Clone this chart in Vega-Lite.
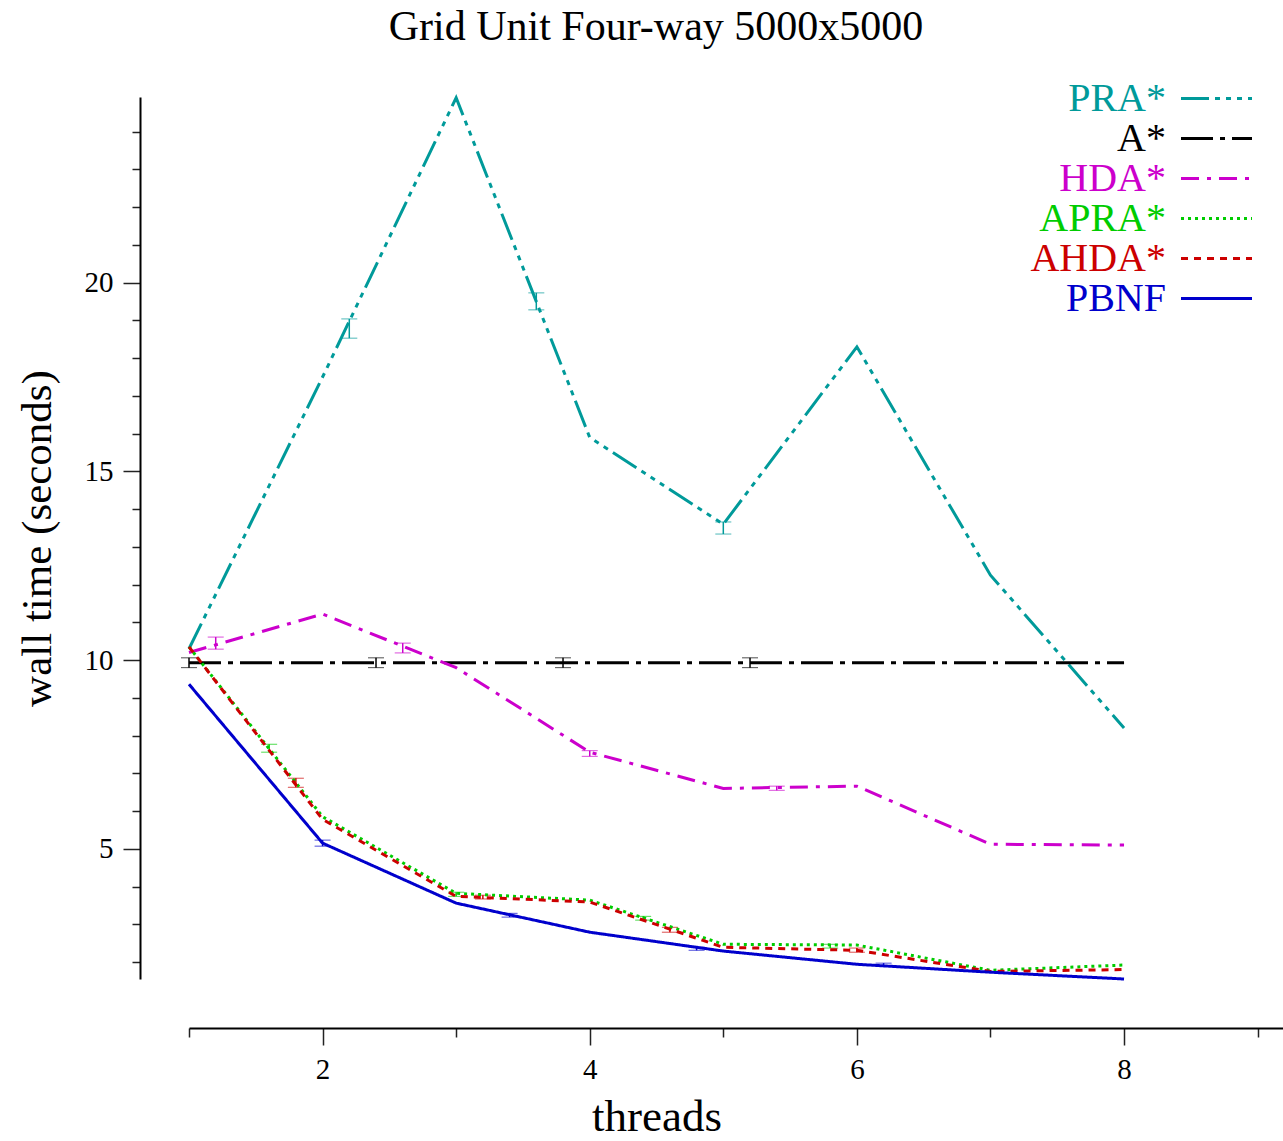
{
  "$schema": "https://vega.github.io/schema/vega-lite/v6.json",
  "autosize": {"type": "none"},
  "padding": {"left": 189, "top": 97, "right": 0, "bottom": 162},
  "width": 1094,
  "height": 882,
  "background": "white",
  "config": {
    "view": {"stroke": null},
    "font": "Liberation Serif",
    "axis": {"domainColor": "black", "domainWidth": 2, "tickColor": "#222", "tickWidth": 1.5, "labelColor": "black", "titleColor": "black", "labelFont": "Liberation Serif", "titleFont": "Liberation Serif", "titleFontWeight": "normal", "grid": false}
  },
  "title": {"text": "Grid Unit Four-way 5000x5000", "fontSize": 42, "font": "Liberation Serif", "fontWeight": "normal", "color": "black", "anchor": "middle", "dx": -80, "offset": 30},
  "datasets": {
    "lines": [
      {"series": "PRA*", "threads": 1, "time": 10.3},
      {"series": "PRA*", "threads": 2, "time": 17.5},
      {"series": "PRA*", "threads": 3, "time": 24.9},
      {"series": "PRA*", "threads": 4, "time": 15.9},
      {"series": "PRA*", "threads": 5, "time": 13.6},
      {"series": "PRA*", "threads": 6, "time": 18.3},
      {"series": "PRA*", "threads": 7, "time": 12.25},
      {"series": "PRA*", "threads": 8, "time": 8.2},
      {"series": "A*", "threads": 1, "time": 9.93},
      {"series": "A*", "threads": 2, "time": 9.93},
      {"series": "A*", "threads": 3, "time": 9.93},
      {"series": "A*", "threads": 4, "time": 9.93},
      {"series": "A*", "threads": 5, "time": 9.93},
      {"series": "A*", "threads": 6, "time": 9.93},
      {"series": "A*", "threads": 7, "time": 9.93},
      {"series": "A*", "threads": 8, "time": 9.93},
      {"series": "HDA*", "threads": 1, "time": 10.2},
      {"series": "HDA*", "threads": 2, "time": 11.22},
      {"series": "HDA*", "threads": 3, "time": 9.8},
      {"series": "HDA*", "threads": 4, "time": 7.56},
      {"series": "HDA*", "threads": 5, "time": 6.6},
      {"series": "HDA*", "threads": 6, "time": 6.66},
      {"series": "HDA*", "threads": 7, "time": 5.12},
      {"series": "HDA*", "threads": 8, "time": 5.1},
      {"series": "APRA*", "threads": 1, "time": 10.35},
      {"series": "APRA*", "threads": 2, "time": 5.85},
      {"series": "APRA*", "threads": 3, "time": 3.82},
      {"series": "APRA*", "threads": 4, "time": 3.64},
      {"series": "APRA*", "threads": 5, "time": 2.47},
      {"series": "APRA*", "threads": 6, "time": 2.45},
      {"series": "APRA*", "threads": 7, "time": 1.78},
      {"series": "APRA*", "threads": 8, "time": 1.92},
      {"series": "AHDA*", "threads": 1, "time": 10.35},
      {"series": "AHDA*", "threads": 2, "time": 5.78},
      {"series": "AHDA*", "threads": 3, "time": 3.74},
      {"series": "AHDA*", "threads": 4, "time": 3.59},
      {"series": "AHDA*", "threads": 5, "time": 2.39},
      {"series": "AHDA*", "threads": 6, "time": 2.31},
      {"series": "AHDA*", "threads": 7, "time": 1.75},
      {"series": "AHDA*", "threads": 8, "time": 1.8},
      {"series": "PBNF", "threads": 1, "time": 9.36},
      {"series": "PBNF", "threads": 2, "time": 5.15},
      {"series": "PBNF", "threads": 3, "time": 3.56},
      {"series": "PBNF", "threads": 4, "time": 2.79},
      {"series": "PBNF", "threads": 5, "time": 2.29},
      {"series": "PBNF", "threads": 6, "time": 1.94},
      {"series": "PBNF", "threads": 7, "time": 1.73},
      {"series": "PBNF", "threads": 8, "time": 1.55}
    ],
    "bars": [
      {"series": "PRA*", "x": 2.2, "lo": 18.53, "hi": 19.04},
      {"series": "PRA*", "x": 3.6, "lo": 19.28, "hi": 19.73},
      {"series": "PRA*", "x": 5.0, "lo": 13.34, "hi": 13.66},
      {"series": "A*", "x": 1.0, "lo": 9.8, "hi": 10.06},
      {"series": "A*", "x": 2.4, "lo": 9.8, "hi": 10.06},
      {"series": "A*", "x": 3.8, "lo": 9.8, "hi": 10.06},
      {"series": "A*", "x": 5.2, "lo": 9.8, "hi": 10.06},
      {"series": "HDA*", "x": 1.2, "lo": 10.29, "hi": 10.61},
      {"series": "HDA*", "x": 2.6, "lo": 10.19, "hi": 10.45},
      {"series": "HDA*", "x": 4.0, "lo": 7.45, "hi": 7.6},
      {"series": "HDA*", "x": 5.4, "lo": 6.55, "hi": 6.66},
      {"series": "APRA*", "x": 1.6, "lo": 7.56, "hi": 7.77},
      {"series": "APRA*", "x": 3.0, "lo": 3.74, "hi": 3.85},
      {"series": "APRA*", "x": 4.4, "lo": 3.11, "hi": 3.21},
      {"series": "APRA*", "x": 5.8, "lo": 2.37, "hi": 2.47},
      {"series": "AHDA*", "x": 1.8, "lo": 6.63, "hi": 6.87},
      {"series": "AHDA*", "x": 3.2, "lo": 3.67, "hi": 3.77},
      {"series": "AHDA*", "x": 4.6, "lo": 2.79, "hi": 2.92},
      {"series": "AHDA*", "x": 6.0, "lo": 2.26, "hi": 2.37},
      {"series": "PBNF", "x": 2.0, "lo": 5.07, "hi": 5.23},
      {"series": "PBNF", "x": 3.4, "lo": 3.19, "hi": 3.29},
      {"series": "PBNF", "x": 4.8, "lo": 2.31, "hi": 2.39},
      {"series": "PBNF", "x": 6.2, "lo": 1.9, "hi": 1.97}
    ]
  },
  "layer": [
    {
      "data": {"name": "bars"},
      "mark": {"type": "errorbar", "ticks": {"size": 16, "strokeWidth": 1.5}, "rule": {"strokeWidth": 1.5}},
      "encoding": {
        "x": {"field": "x", "type": "quantitative", "title": "threads"},
        "y": {"field": "lo", "type": "quantitative", "title": "wall time (seconds)"},
        "y2": {"field": "hi"},
        "color": {"field": "series", "type": "nominal"}
      }
    },
    {
      "data": {"name": "lines"},
      "mark": {"type": "line", "strokeWidth": 3, "clip": false},
      "encoding": {
        "x": {
          "field": "threads", "type": "quantitative", "title": "threads",
          "scale": {"domain": [1, 9.19], "nice": false, "zero": false},
          "axis": {
            "titleFontSize": 45, "titleX": 467.5, "titleY": 102, "titleBaseline": "alphabetic",
            "offset": 49, "values": [1, 2, 3, 4, 5, 6, 7, 8, 9], "format": "d",
            "tickSize": {"condition": {"test": "datum.value % 2 === 0", "value": 17}, "value": 9},
            "labelExpr": "datum.value % 2 === 0 ? datum.label : ''",
            "labelFontSize": 29, "labelPadding": 10, "labelFlush": false
          }
        },
        "y": {
          "field": "time", "type": "quantitative", "title": "wall time (seconds)",
          "scale": {"domain": [1.55, 24.92], "nice": false, "zero": false},
          "axis": {
            "titleFontSize": 43, "titleX": -103, "titleY": 441, "titleBaseline": "middle", "titleAngle": -90,
            "offset": 49, "values": [2, 3, 4, 5, 6, 7, 8, 9, 10, 11, 12, 13, 14, 15, 16, 17, 18, 19, 20, 21, 22, 23, 24], "format": "d",
            "tickSize": {"condition": {"test": "datum.value % 5 === 0", "value": 17}, "value": 8},
            "labelExpr": "datum.value % 5 === 0 ? datum.label : ''",
            "labelFontSize": 29, "labelPadding": 10, "labelFlush": false
          }
        },
        "color": {
          "field": "series", "type": "nominal",
          "scale": {"domain": ["PRA*", "A*", "HDA*", "APRA*", "AHDA*", "PBNF"], "range": ["#009a9a", "#000000", "#cc00cc", "#00cc00", "#cc0000", "#0000cc"]},
          "legend": {
            "title": null, "orient": "none", "legendX": 1007.5, "legendY": -18.5, "padding": 0,
            "symbolType": "M-3,0H3", "symbolSize": 560, "symbolStrokeWidth": 3,
            "labelFontSize": 40, "labelFont": "Liberation Serif", "labelAlign": "right", "labelOffset": -70.5, "labelLimit": 400,
            "rowPadding": -2,
            "encode": {"labels": {"update": {"fill": {"scale": "color", "field": "value"}}}}
          }
        },
        "strokeDash": {
          "field": "series", "type": "nominal",
          "scale": {"domain": ["PRA*", "A*", "HDA*", "APRA*", "AHDA*", "PBNF"], "range": [[28, 6, 5, 6, 5, 6, 5, 6], [32, 7, 5, 7], [18, 8, 4, 8], [3, 4], [7, 6], [1, 0]]},
          "legend": {
            "title": null, "orient": "none", "legendX": 1007.5, "legendY": -18.5, "padding": 0,
            "symbolType": "M-3,0H3", "symbolSize": 560, "symbolStrokeWidth": 3,
            "labelFontSize": 40, "labelFont": "Liberation Serif", "labelAlign": "right", "labelOffset": -70.5, "labelLimit": 400,
            "rowPadding": -2,
            "encode": {"labels": {"update": {"fill": {"scale": "color", "field": "value"}}}}
          }
        }
      }
    }
  ]
}
